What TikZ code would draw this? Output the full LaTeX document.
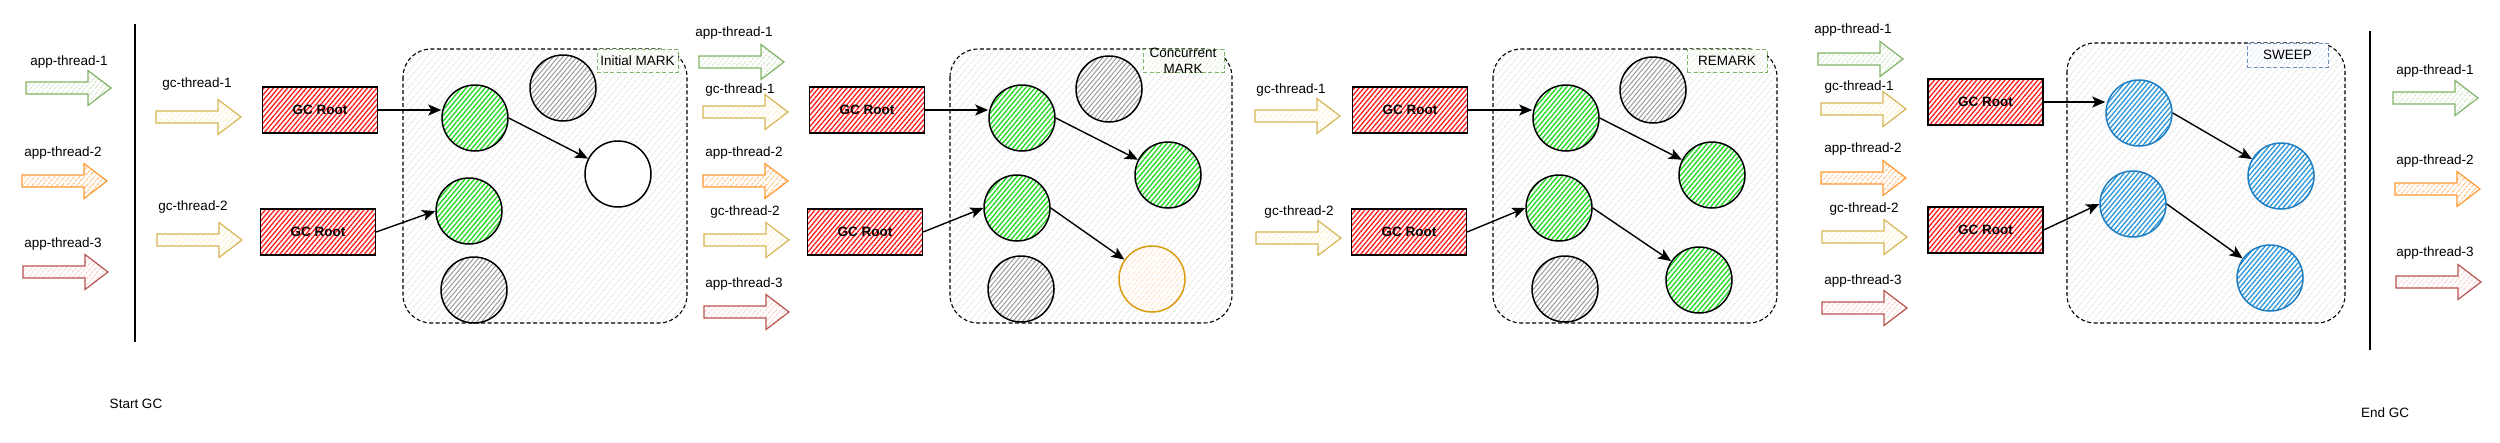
\documentclass[tikz,border=0pt]{standalone}
\usepackage{fontspec}
\setmainfont{Liberation Sans}
\usetikzlibrary{patterns.meta,arrows.meta}
\definecolor{agreenS}{HTML}{82B366}
\definecolor{agreenH}{HTML}{BCD9AC}
\definecolor{aorangeS}{HTML}{FF9933}
\definecolor{aorangeH}{HTML}{FF9F40}
\definecolor{aredS}{HTML}{B85450}
\definecolor{aredH}{HTML}{F2B8B6}
\definecolor{ayelS}{HTML}{D6B656}
\definecolor{ayelH}{HTML}{FFE6A3}
\definecolor{rootH}{HTML}{FF1A1A}
\definecolor{liveH}{HTML}{1ED81E}
\definecolor{deadH}{HTML}{9A9A9A}
\definecolor{blueS}{HTML}{1F7EC2}
\definecolor{blueH}{HTML}{2A95D8}
\definecolor{orgS}{HTML}{D99B0F}
\definecolor{orgH}{HTML}{FFD2A8}
\definecolor{boxH}{HTML}{E6E6E6}
\definecolor{tagH}{HTML}{CFE6C3}
\definecolor{sweepS}{HTML}{6C8EBF}
\definecolor{sweepH}{HTML}{C9DBF5}
\newcommand{\blockarr}[3]{\draw[#3] (#1,#2-6) -- ++(62,0) -- ++(0,-11.5) -- ++(23,17.5) -- ++(-23,17.5) -- ++(0,-11.5) -- ++(-62,0) -- cycle;}
\begin{document}
\begin{tikzpicture}[x=1pt,y=-1pt,
  font=\fontsize{13.5}{16}\selectfont,
  hatch/.style 2 args={preaction={fill=white},pattern={Lines[angle=50,distance=#2,line width=1pt]},pattern color=#1},
  hatchb/.style 2 args={preaction={fill=white},pattern={Lines[angle=50,distance=#2,line width=1.3pt]},pattern color=#1},
  appg/.style={draw=agreenS,line width=1.2pt,hatch={agreenH}{4pt}},
  appo/.style={draw=aorangeS,line width=1.2pt,hatch={aorangeH}{4pt}},
  appr/.style={draw=aredS,line width=1.2pt,hatch={aredH}{4pt}},
  gcy/.style={draw=ayelS,line width=1.2pt,hatch={ayelH}{4pt}},
  lbl/.style={inner sep=0pt},
  groot/.style={draw=black,line width=1.3pt,hatchb={rootH}{3.6pt},minimum width=115pt,minimum height=46pt,inner sep=0pt,font=\fontsize{13.5}{16}\selectfont\bfseries},
  obj/.style={circle,line width=1.5pt,minimum size=66pt,inner sep=0pt},
  live/.style={obj,draw=black,hatchb={liveH}{3.6pt}},
  dead/.style={obj,draw=black,hatch={deadH}{3.6pt}},
  unk/.style={obj,draw=black,fill=white},
  pend/.style={obj,draw=orgS,hatch={orgH}{4pt}},
  swept/.style={obj,draw=blueS,hatchb={blueH}{3.6pt}},
  stage/.style={draw=black,line width=1.1pt,dash pattern=on 4pt off 2.5pt,rounded corners=28pt,pattern={Lines[angle=50,distance=5pt,line width=0.8pt]},pattern color=boxH},
  tag/.style={draw=agreenS,line width=1pt,dash pattern=on 4pt off 2.5pt,hatch={tagH}{4pt},inner sep=0pt},
  tagb/.style={draw=sweepS,line width=1pt,dash pattern=on 4pt off 2.5pt,hatch={sweepH}{4pt},inner sep=0pt},
  conn/.style={-{Stealth[length=13pt,width=11pt,inset=3pt]},line width=1.4pt},
  bar/.style={line width=1.6pt,draw=black}]
\useasboundingbox (0,0) rectangle (2500,442);

% ---------- left: start GC ----------
\node[lbl] (lA1) at (69,62) {app-thread-1};
\blockarr{26}{88}{appg}
\node[lbl] (lA2) at (63,153) {app-thread-2};
\blockarr{22}{181}{appo}
\node[lbl] (lA3) at (63,244) {app-thread-3};
\blockarr{23}{272}{appr}
\coordinate (s1) at (135,24);
\coordinate (s2) at (135,342);
\draw[bar] (s1) -- (s2);
\node[lbl] (startgc) at (136,404) {Start GC};

% ---------- stage 1: Initial MARK ----------
\node[lbl] (lG1a) at (197,84) {gc-thread-1};
\blockarr{156}{117}{gcy}
\node[lbl] (lG2a) at (193,207) {gc-thread-2};
\blockarr{157}{240}{gcy}
\node[groot] (a1) at (320,110) {GC Root};
\node[groot] (a2) at (318,232) {GC Root};
\draw[stage] (403,49) rectangle (687,323);
\node[tag,minimum width=81pt,minimum height=23pt] (t1) at (637.5,60.5) {Initial MARK};
\node[dead] (ak1) at (563,88) {};
\node[live] (ag1) at (475,118) {};
\node[unk] (aw) at (618,174) {};
\node[live] (ag2) at (469,211) {};
\node[dead] (ak2) at (474,290) {};
\draw[conn] (a1.east) -- (ag1.west |- a1.east);
\draw[conn] (a2.east) -- (ag2.west);
\draw[conn] (ag1.east) -- (aw);

% ---------- between 1 and 2 ----------
\node[lbl] (mA1) at (734,33) {app-thread-1};
\blockarr{699}{62}{appg}
\node[lbl] (mG1) at (740,90) {gc-thread-1};
\blockarr{703}{112}{gcy}
\node[lbl] (mA2) at (744,153) {app-thread-2};
\blockarr{703}{181}{appo}
\node[lbl] (mG2) at (745,212) {gc-thread-2};
\blockarr{704}{240}{gcy}
\node[lbl] (mA3) at (744,284) {app-thread-3};
\blockarr{704}{312}{appr}

% ---------- stage 2: Concurrent MARK ----------
\node[groot] (b1) at (867,110) {GC Root};
\node[groot] (b2) at (865,232) {GC Root};
\draw[stage] (950,49) rectangle (1232,323);
\node[tag,minimum width=81pt,minimum height=23pt] (t2) at (1183.5,60.5) {};
\node[lbl,align=center] (t2txt) at (1183,61) {Concurrent\\MARK};
\node[live] (bg1) at (1022,118) {};
\node[dead] (bk1) at (1109,89) {};
\node[live] (bg3) at (1168,175) {};
\node[live] (bg2) at (1017,208) {};
\node[dead] (bk2) at (1021,289) {};
\node[pend] (bo) at (1152,279) {};
\draw[conn] (b1.east) -- (bg1.west |- b1.east);
\draw[conn] (b2.east) -- (bg2.west);
\draw[conn] (bg1.east) -- (bg3);
\draw[conn] (bg2.east) -- (bo);

% ---------- between 2 and 3 ----------
\node[lbl] (nG1) at (1291,90) {gc-thread-1};
\blockarr{1255}{116}{gcy}
\node[lbl] (nG2) at (1299,212) {gc-thread-2};
\blockarr{1256}{238}{gcy}

% ---------- stage 3: REMARK ----------
\node[groot] (c1) at (1410,110) {GC Root};
\node[groot] (c2) at (1409,232) {GC Root};
\draw[stage] (1493,49) rectangle (1777,323);
\node[tag,minimum width=80pt,minimum height=23pt] (t3) at (1727,60.5) {REMARK};
\node[live] (cg1) at (1566,118) {};
\node[dead] (ck1) at (1653,90) {};
\node[live] (cg3) at (1712,175) {};
\node[live] (cg2) at (1559,208) {};
\node[dead] (ck2) at (1565,289) {};
\node[live] (cg4) at (1699,280) {};
\draw[conn] (c1.east) -- (cg1.west |- c1.east);
\draw[conn] (c2.east) -- (cg2.west);
\draw[conn] (cg1.east) -- (cg3);
\draw[conn] (cg2.east) -- (cg4);

% ---------- between 3 and 4 ----------
\node[lbl] (pA1) at (1853,30) {app-thread-1};
\blockarr{1818}{59}{appg}
\node[lbl] (pG1) at (1859,87) {gc-thread-1};
\blockarr{1821}{109}{gcy}
\node[lbl] (pA2) at (1863,149) {app-thread-2};
\blockarr{1821}{178}{appo}
\node[lbl] (pG2) at (1864,209) {gc-thread-2};
\blockarr{1822}{237}{gcy}
\node[lbl] (pA3) at (1863,281) {app-thread-3};
\blockarr{1822}{308}{appr}

% ---------- stage 4: SWEEP ----------
\node[groot] (d1) at (1985.5,102) {GC Root};
\node[groot] (d2) at (1985.5,230) {GC Root};
\draw[stage] (2067,43) rectangle (2345,323);
\node[tagb,minimum width=81pt,minimum height=24pt] (t4) at (2287.5,55) {SWEEP};
\node[swept] (db1) at (2139,113) {};
\node[swept] (db3) at (2281,176) {};
\node[swept] (db2) at (2133,204) {};
\node[swept] (db4) at (2270,278) {};
\draw[conn] (d1.east) -- (db1.west |- d1.east);
\draw[conn] (d2.east) -- (db2.west);
\draw[conn] (db1.east) -- (db3);
\draw[conn] (db2.east) -- (db4);

% ---------- right: end GC ----------
\coordinate (e1) at (2370,31);
\coordinate (e2) at (2370,350);
\draw[bar] (e1) -- (e2);
\node[lbl] (endgc) at (2385,413) {End GC};
\node[lbl] (rA1) at (2435,71) {app-thread-1};
\blockarr{2393}{98}{appg}
\node[lbl] (rA2) at (2435,161) {app-thread-2};
\blockarr{2395}{189}{appo}
\node[lbl] (rA3) at (2435,253) {app-thread-3};
\blockarr{2396}{282}{appr}
\end{tikzpicture}
\end{document}
